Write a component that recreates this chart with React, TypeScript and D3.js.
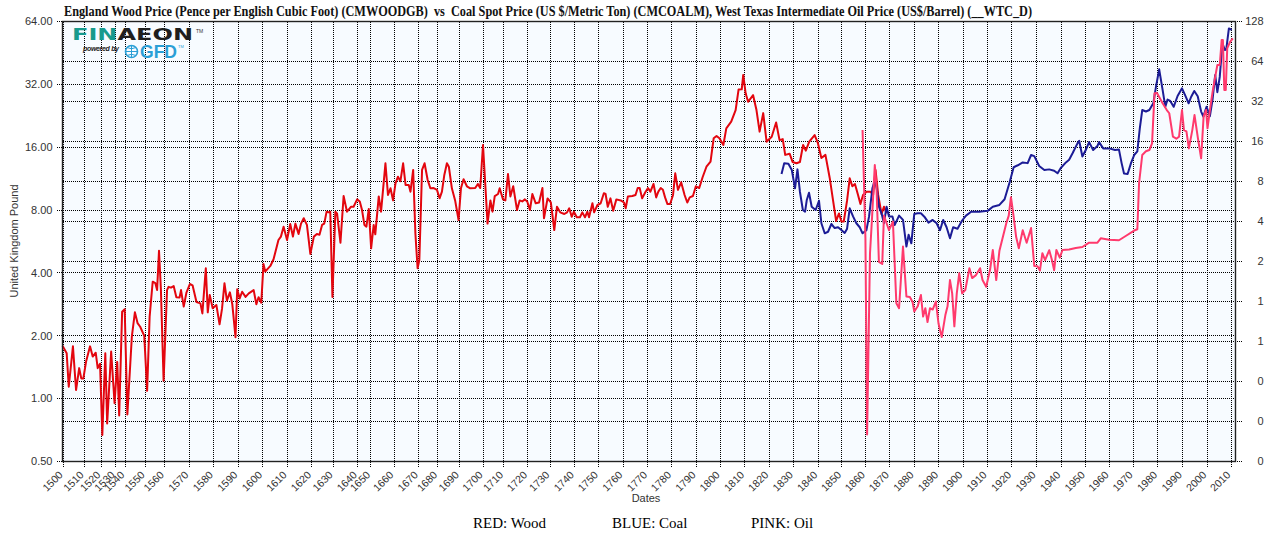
import * as d3 from "d3";
import React, { useEffect, useRef } from "react";

// x axis ticks (decades) and the relative width each decade gets on the axis
const tickYears = d3.range(1500, 2020, 10);
const lastYear = 2012;
const decadeWeights = [
  8.5, 6.8, 5.8, 4.0, 8.3, 7.8, 10, 10, 10, 10, // 1500-1590
  10, 10, 8.8, 9.9, 5.4, 9.4, 10, 7.9, 8.8, 9.7, // 1600-1690
  8.4, 9.7, 9.1, 10, 9.8, 10, 10, 9.8, 10, 9.8, // 1700-1790
  10, 9.8, 10, 10, 9.7, 9.7, 9.8, 10, 10, 9.9, // 1800-1890
  9.9, 10, 10, 10, 10, 9.7, 9.8, 10, 10, 10, // 1900-1990
  9.8, 2.2, // 2000s, 2010-2012
];

const leftTicks = [0.5, 1, 2, 4, 8, 16, 32, 64];
const rightTicks = [0.0625, 0.125, 0.25, 0.5, 1, 2, 4, 8, 16, 32, 64, 128];

// RED: England wood price (pence per cubic foot), left axis
const woodPrices = [
  [1500, 1.79], [1502, 1.65], [1503, 1.14], [1505, 1.78], [1506.5, 1.1], [1508, 1.4], [1509, 1.25],
  [1510, 1.25], [1511.6, 1.5], [1514, 1.78], [1515.6, 1.59], [1517.4, 1.66], [1518.6, 1.4], [1520, 1.47],
  [1521.6, 0.67], [1523.7, 1.65], [1525, 0.76], [1527.8, 1.68], [1530.3, 0.95], [1533, 1.5], [1535, 0.83],
  [1538, 2.61], [1540.3, 2.68], [1541.6, 0.84], [1543.8, 1.98], [1545.3, 2.59], [1546.6, 2.3], [1547.9, 2.21],
  [1549.9, 2.0], [1551.4, 1.09], [1552.7, 2.47], [1554.3, 3.63], [1555.7, 3.57], [1556.6, 3.31], [1557.6, 5.11],
  [1558.6, 3.31], [1560, 1.22], [1561.4, 3.31], [1562, 3.43], [1563, 3.4], [1564.1, 3.46], [1565.2, 3.06],
  [1566.5, 3.05], [1567.1, 3.31], [1568.2, 2.76], [1569.3, 3.22], [1570.7, 3.54], [1571.8, 3.49], [1573.4, 2.9],
  [1575, 2.86], [1575.8, 2.56], [1577.2, 4.21], [1578, 2.59], [1578.8, 3.14], [1580, 2.71], [1581.5, 2.81],
  [1582.8, 2.27], [1583.8, 2.69], [1584.8, 3.57], [1585.8, 2.95], [1587, 3.23], [1588, 2.83], [1589.3, 1.97],
  [1590, 3.34], [1591, 3.02], [1592, 3.25], [1593.4, 3.07], [1594.7, 3.19], [1596.7, 3.31], [1597.8, 2.83],
  [1598.7, 3.06], [1599.8, 2.88], [1600.7, 4.41], [1601.4, 4.06], [1603.5, 4.32], [1604.8, 4.65], [1606.8, 5.75],
  [1607.8, 5.97], [1608.9, 6.66], [1610.3, 5.75], [1611.6, 6.86], [1612.7, 5.97], [1613.7, 6.89], [1615, 6.15],
  [1616, 6.89], [1617.1, 7.31], [1618.4, 6.79], [1619.8, 4.93], [1621.4, 5.97], [1622.8, 6.14], [1624, 6.1],
  [1625.2, 6.79], [1626.2, 6.89], [1627.3, 7.86], [1628.2, 7.8], [1629, 7.86], [1630, 3.07], [1631.2, 7.86],
  [1631.9, 7.71], [1633.3, 5.58], [1634.6, 9.34], [1636, 7.86], [1637.7, 8.3], [1638.7, 8.3], [1640.3, 9.0],
  [1642.3, 8.8], [1644, 8.0], [1645.8, 6.79], [1647.3, 6.66], [1649.1, 8.1], [1650.5, 5.25], [1651.6, 6.79],
  [1652.3, 6.12], [1653.8, 9.3], [1654.8, 7.86], [1656.7, 13.4], [1657.8, 9.45], [1658.9, 10.17], [1660, 8.9],
  [1661, 10.75], [1662, 11.56], [1663, 11.0], [1664.1, 13.4], [1665.1, 10.56], [1666.4, 10.56], [1667.1, 9.8],
  [1668.2, 12.45], [1669.1, 6.19], [1670, 4.21], [1670.9, 4.61], [1672.3, 12.45], [1673.6, 13.4], [1675.2, 11.15],
  [1676.6, 10.17], [1678.3, 10.2], [1680, 10.0], [1681.2, 9.11], [1682.3, 9.8], [1683.4, 11.78], [1684.6, 13.4],
  [1685.5, 12.9], [1686.9, 10.17], [1688.4, 8.9], [1690, 7.17], [1691, 10.17], [1692.1, 11.24], [1693.5, 10.4],
  [1694.9, 10.17], [1697, 10.2], [1698.1, 10.67], [1699.1, 10.2], [1700.3, 16.4], [1701.2, 11.56], [1702.5, 6.89],
  [1703.9, 8.9], [1704.9, 7.86], [1706, 9.34], [1707.6, 9.55], [1708.4, 10.17], [1710, 9.0], [1711, 8.9],
  [1712.1, 11.91], [1713.1, 9.3], [1714.3, 10.4], [1715.9, 8.0], [1717, 8.9], [1718.1, 8.8], [1719.2, 9.0],
  [1720.2, 8.8], [1721.4, 8.0], [1722.5, 9.55], [1724, 8.62], [1725.5, 8.7], [1727, 10.2], [1727.7, 7.31],
  [1729.3, 9.1], [1730.7, 8.7], [1732.1, 6.42], [1733.2, 8.3], [1734.5, 7.8], [1736.2, 7.66], [1737.3, 7.8],
  [1738.2, 8.16], [1739.2, 7.43], [1740.1, 7.86], [1741.3, 7.39], [1742.6, 7.39], [1743.6, 7.8], [1744.7, 7.39],
  [1745.7, 7.86], [1746.4, 7.39], [1747.8, 8.62], [1748.5, 7.8], [1749.9, 8.46], [1751.2, 8.62], [1752.5, 9.63],
  [1753.2, 9.55], [1754.1, 8.3], [1755.2, 9.1], [1756.3, 7.94], [1757.6, 9.0], [1759.4, 8.9], [1760.7, 8.7],
  [1761.4, 8.16], [1762.3, 9.3], [1764.1, 9.34], [1765.4, 9.45], [1766.3, 10.2], [1767.1, 10.2], [1768.1, 9.1],
  [1769.4, 9.74], [1770.5, 10.2], [1771.5, 9.8], [1772.8, 10.67], [1773.9, 9.2], [1774.8, 9.8], [1775.8, 10.2],
  [1776.7, 10.0], [1777.6, 9.2], [1778.6, 8.55], [1779.7, 8.55], [1780.9, 9.45], [1781.8, 12.0], [1782.9, 10.0],
  [1784.2, 10.87], [1785.6, 9.45], [1786.7, 8.7], [1787.7, 9.2], [1789, 9.34], [1790.2, 10.4], [1791.6, 10.2],
  [1793, 11.49], [1794.6, 12.9], [1796.3, 13.64], [1797.6, 17.65], [1798.8, 18.1], [1800, 17.65], [1801.6, 16.4],
  [1802.8, 19.7], [1804.8, 21.2], [1806.6, 24.1], [1807.8, 30.2], [1809.1, 30.3], [1809.7, 35.5], [1810.7, 29.0],
  [1811.7, 26.4], [1813.8, 28.4], [1815.2, 24.1], [1816.5, 19.0], [1818, 23.3], [1819.4, 17.0], [1821.5, 17.97],
  [1823.3, 21.0], [1824.7, 17.3], [1826, 17.5], [1827, 14.7], [1828.8, 14.9], [1830, 13.6], [1831.6, 13.4],
  [1833, 13.6], [1834.3, 16.4], [1835.4, 15.4], [1836.8, 17.0], [1839, 18.3], [1840.3, 16.8], [1841.8, 14.2],
  [1843.5, 14.7], [1845.3, 11.4], [1846.7, 8.9], [1848, 7.09], [1849.2, 7.71], [1850.2, 7.05], [1851.2, 7.05],
  [1852.6, 8.9], [1853.7, 11.35], [1854.8, 10.4], [1855.9, 10.67], [1857.2, 9.45], [1858.2, 8.55], [1859.3, 9.45],
  [1860.7, 9.8], [1862.4, 9.8], [1863.5, 9.45], [1864.5, 12.45], [1865.6, 9.45], [1867, 7.66], [1868, 8.3],
  [1869.1, 7.71],
];

// BLUE: coal spot price (US$/metric ton), right axis
const coalPrices = [
  [1825.5, 9.11], [1826.6, 10.97], [1828.3, 10.9], [1829.7, 9.77], [1831, 7.11], [1832, 9.87], [1833, 6.7],
  [1834.2, 4.88], [1835.1, 4.74], [1835.8, 5.81], [1836.7, 6.59], [1837.8, 5.17], [1839.4, 4.88], [1840.8, 5.73],
  [1841.8, 3.88], [1843.2, 3.26], [1844.6, 3.35], [1846, 3.83], [1847.4, 3.57], [1848.8, 3.62], [1850.2, 3.45],
  [1851.6, 3.28], [1852.6, 3.53], [1853.7, 5.03], [1855.1, 4.37], [1856.5, 3.88], [1857.9, 3.62], [1859.1, 3.26],
  [1860.7, 3.44], [1861.8, 4.35], [1863.2, 7.11], [1864.2, 8.21], [1865.1, 6.9], [1865.9, 5.17], [1867, 4.61],
  [1868, 3.88], [1869.1, 5.17], [1870.1, 4.37], [1871.5, 4.37], [1872.4, 3.76], [1874.2, 4.43], [1875.8, 4.11],
  [1877.2, 2.59], [1878.1, 3.18], [1879.2, 2.74], [1880.4, 4.56], [1881.8, 4.61], [1883.1, 4.61], [1884.5, 4.35],
  [1886.2, 3.92], [1887.9, 4.11], [1889.5, 3.88], [1890.9, 3.44], [1892.2, 4.11], [1893.6, 3.62], [1895, 2.99],
  [1896.3, 3.62], [1898.1, 3.53], [1900, 4.07], [1901.6, 4.43], [1903.7, 4.74], [1907.1, 4.74], [1910.5, 4.81],
  [1912.6, 5.17], [1915.3, 5.33], [1917.4, 5.88], [1919.4, 7.84], [1921.1, 10.24], [1922.8, 10.6], [1924.8, 11.13],
  [1926.8, 11.0], [1928.2, 12.66], [1929.5, 12.42], [1931.5, 10.46], [1933.6, 9.77], [1935.6, 9.87], [1937.6, 9.65],
  [1939, 9.22], [1940.3, 10.1], [1942.4, 11.13], [1943.7, 11.65], [1945.1, 13.04], [1947.1, 15.5], [1947.8, 16.2],
  [1949.1, 12.33], [1950.5, 13.8], [1951.9, 15.83], [1953.6, 13.8], [1955.4, 14.8], [1956.1, 15.83], [1957.8, 14.2],
  [1960.3, 14.2], [1962.8, 13.8], [1964.4, 13.9], [1965.5, 11.0], [1966.5, 9.2], [1968, 9.11], [1969.4, 11.0],
  [1970.7, 12.66], [1972, 13.5], [1973, 20.1], [1974, 27.6], [1975.5, 26.9], [1976.9, 27.6], [1978.5, 31.0],
  [1979.6, 41.4], [1980.9, 55.9], [1982.3, 39.1], [1983.4, 29.2], [1984.3, 33.1], [1985.4, 32.3], [1986.8, 29.2],
  [1988.4, 35.2], [1990.2, 40.2], [1991.5, 35.6], [1992.9, 31.0], [1993.9, 34.6], [1995.2, 38.4], [1996.6, 35.0],
  [1998, 26.9], [1998.9, 24.6], [2000.2, 29.2], [2001.6, 24.8], [2002.7, 33.1], [2003.8, 50.7], [2004.7, 37.6],
  [2005.7, 49.0], [2006.8, 87.8], [2007.8, 78.2], [2008.4, 78.8], [2009.5, 113.6], [2010.6, 110.5],
];

// PINK: WTI oil price (US$/barrel), right axis
const oilPrices = [
  [1859.1, 19.5], [1860.3, 3.0], [1861, 0.1], [1862.2, 2.31], [1863, 4.11], [1864.2, 10.65], [1864.9, 7.31],
  [1865.9, 1.99], [1867.3, 1.92], [1868, 4.43], [1869.1, 3.88], [1870.1, 3.44], [1871.7, 3.99], [1873.1, 0.97],
  [1874.2, 0.89], [1875.8, 2.59], [1877.2, 1.09], [1878.6, 1.08], [1879.7, 0.99], [1880.4, 0.84], [1881.8, 0.92],
  [1883.1, 1.12], [1884, 0.77], [1884.9, 0.89], [1885.8, 0.7], [1886.8, 0.89], [1887.9, 0.87], [1889.2, 1.0],
  [1890.3, 0.68], [1891.6, 0.54], [1893.1, 0.79], [1894, 0.92], [1895, 1.45], [1895.9, 1.15], [1896.8, 0.65],
  [1897.8, 1.15], [1898.8, 1.63], [1900, 1.15], [1901.3, 1.22], [1903, 1.78], [1904.1, 1.5], [1905.7, 1.58],
  [1907.4, 1.78], [1908.4, 1.45], [1909.9, 1.29], [1911.5, 1.74], [1912.6, 2.44], [1914, 1.45], [1915.3, 2.41],
  [1917, 3.22], [1918.1, 3.88], [1919.1, 4.43], [1920, 6.09], [1921.1, 4.35], [1922.1, 3.07], [1923.2, 2.52],
  [1924.8, 3.44], [1926.4, 2.77], [1928.2, 3.57], [1929.5, 1.85], [1930.8, 1.84], [1931.8, 1.71], [1932.8, 2.31],
  [1933.9, 2.05], [1935.6, 2.43], [1936.7, 2.05], [1937.6, 1.72], [1938.5, 2.44], [1939.9, 2.14], [1941, 2.44],
  [1943.7, 2.46], [1946.4, 2.53], [1949.1, 2.57], [1951.9, 2.77], [1955.4, 2.77], [1956.8, 2.99], [1960.3, 2.92],
  [1964.4, 2.89], [1967.2, 3.11], [1970.7, 3.42], [1972, 3.5], [1972.7, 7.76], [1974, 12.66], [1975.5, 13.5],
  [1976.9, 13.8], [1978, 15.5], [1979, 36.9], [1980, 37.1], [1980.9, 34.6], [1982.3, 31.0], [1984, 27.6],
  [1985, 26.1], [1986.5, 17.4], [1987.9, 16.8], [1989, 17.4], [1990.2, 27.6], [1991, 19.5], [1992, 19.1],
  [1993, 14.2], [1994.4, 19.5], [1995.3, 25.3], [1996.7, 16.9], [1998, 11.96], [1999, 24.6], [2000, 27.6],
  [2000.6, 20.1], [2001.6, 27.6], [2002.7, 37.6], [2003.8, 49.0], [2004.7, 60.2], [2005.7, 60.2], [2006.5, 93],
  [2007, 93], [2007.6, 39.1], [2008.2, 39.1], [2008.8, 80.3], [2010, 90.1], [2011, 95.6],
];

const titleText =
  "England Wood Price (Pence per English Cubic Foot) (CMWOODGB)  vs  Coal Spot Price (US $/Metric Ton) (CMCOALM), West Texas Intermediate Oil Price (US$/Barrel) (__WTC_D)";
const legendItems = ["RED: Wood", "BLUE: Coal", "PINK: Oil"];

const W = 1284;
const H = 534;
const sansFont = "'Liberation Sans', Arial, sans-serif";
const serifFont = "'Liberation Serif', 'Times New Roman', serif";

const colorWood = "#e3060f";
const colorCoal = "#1c1c96";
const colorOil = "#ff3a6d";
const colorText = "#333";

const App = () => {
  const d3Container = useRef(null);

  useEffect(() => {
    const margin = { top: 21.5, right: 48.5, bottom: 72.5, left: 62.5 };
    const width = W - margin.left - margin.right;
    const height = H - margin.top - margin.bottom;

    const root = d3.select(d3Container.current);
    root.selectAll("*").remove();

    const svg = root.append("svg").attr("width", W).attr("height", H);
    svg.append("rect").attr("width", W).attr("height", H).attr("fill", "#fff");

    // 제목
    svg
      .append("text")
      .attr("x", 64)
      .attr("y", 16)
      .attr("font-family", serifFont)
      .attr("font-weight", "bold")
      .attr("font-size", 14)
      .attr("textLength", 968)
      .attr("lengthAdjust", "spacingAndGlyphs")
      .attr("fill", "#111")
      .style("white-space", "pre")
      .text(titleText);

    const g = svg.append("g").attr("transform", `translate(${margin.left}, ${margin.top})`);
    g.append("rect").attr("width", width).attr("height", height).attr("fill", "#f7fbff");

    // x scale: uneven decade widths
    const breakYears = [...tickYears, lastYear];
    const cum = [0];
    decadeWeights.forEach((w) => cum.push(cum[cum.length - 1] + w));
    const total = cum[cum.length - 1];
    const x = d3
      .scaleLinear()
      .domain(breakYears)
      .range(cum.map((c) => (c / total) * width));

    const yL = d3.scaleLog().base(2).domain([0.5, 64]).range([height, 0]);
    const yR = d3.scaleLog().base(2).domain([0.0625, 128]).range([height, 0]);

    const dotted = (sel) =>
      sel
        .attr("stroke", "#000")
        .attr("stroke-width", 1)
        .attr("stroke-dasharray", "1,1")
        .attr("shape-rendering", "crispEdges");

    // vertical grid
    g.selectAll(".vgrid")
      .data(tickYears)
      .join("line")
      .attr("x1", (d) => Math.round(x(d)) + 0.5)
      .attr("x2", (d) => Math.round(x(d)) + 0.5)
      .attr("y1", 0)
      .attr("y2", height + 5)
      .call(dotted);

    // horizontal grid (left axis)
    g.selectAll(".lgrid")
      .data(leftTicks)
      .join("line")
      .attr("x1", -6)
      .attr("x2", width)
      .attr("y1", (d) => Math.round(yL(d)))
      .attr("y2", (d) => Math.round(yL(d)))
      .call(dotted);

    // horizontal grid (right axis)
    g.selectAll(".rgrid")
      .data(rightTicks)
      .join("line")
      .attr("x1", 0)
      .attr("x2", width + 6)
      .attr("y1", (d) => Math.round(yR(d)))
      .attr("y2", (d) => Math.round(yR(d)))
      .call(dotted);

    // left labels
    g.selectAll(".ltext")
      .data(leftTicks)
      .join("text")
      .attr("x", -10)
      .attr("y", (d) => yL(d))
      .attr("dy", "0.35em")
      .attr("text-anchor", "end")
      .attr("font-family", sansFont)
      .attr("font-size", 11)
      .attr("fill", colorText)
      .text((d) => d.toFixed(2));

    // right labels
    g.selectAll(".rtext")
      .data(rightTicks)
      .join("text")
      .attr("x", width + 28)
      .attr("y", (d) => yR(d))
      .attr("dy", "0.35em")
      .attr("text-anchor", "end")
      .attr("font-family", sansFont)
      .attr("font-size", 11)
      .attr("fill", colorText)
      .text((d) => d.toFixed(0));

    // x labels
    g.selectAll(".xtext")
      .data(tickYears)
      .join("text")
      .attr("transform", (d) => `translate(${x(d) + 1}, ${height + 14}) rotate(-45)`)
      .attr("text-anchor", "end")
      .attr("font-family", sansFont)
      .attr("font-size", 10.5)
      .attr("fill", colorText)
      .text((d) => d);

    // 축 제목
    svg
      .append("text")
      .attr("transform", `translate(18, 241) rotate(-90)`)
      .attr("text-anchor", "middle")
      .attr("font-family", sansFont)
      .attr("font-size", 11)
      .attr("fill", colorText)
      .text("United Kingdom Pound");

    svg
      .append("text")
      .attr("x", margin.left + width / 2 - 3)
      .attr("y", 502)
      .attr("text-anchor", "middle")
      .attr("font-family", sansFont)
      .attr("font-size", 11)
      .attr("fill", colorText)
      .text("Dates");

    // 라인
    const lineL = d3
      .line()
      .x((d) => x(d[0]))
      .y((d) => yL(d[1]));
    const lineR = d3
      .line()
      .x((d) => x(d[0]))
      .y((d) => yR(d[1]));

    [
      [woodPrices, lineL, colorWood],
      [coalPrices, lineR, colorCoal],
      [oilPrices, lineR, colorOil],
    ].forEach(([data, line, color]) => {
      g.append("path")
        .datum(data)
        .attr("fill", "none")
        .attr("stroke", color)
        .attr("stroke-width", 2)
        .attr("stroke-linejoin", "round")
        .attr("d", line);
    });

    // plot border
    g.append("rect")
      .attr("width", width)
      .attr("height", height)
      .attr("fill", "none")
      .attr("stroke", "#222")
      .attr("stroke-width", 1.4);

    // legend
    svg
      .selectAll(".legend")
      .data(legendItems)
      .join("text")
      .attr("x", (d, i) => 473 + i * 139)
      .attr("y", 528)
      .attr("font-family", serifFont)
      .attr("font-size", 15)
      .attr("fill", "#000")
      .text((d) => d);

    // logo
    const logo = svg.append("g");
    const fin = logo
      .append("text")
      .attr("x", 72)
      .attr("y", 40)
      .attr("font-family", "'DejaVu Sans', sans-serif")
      .attr("font-weight", "bold")
      .attr("font-size", 15.5)
      .attr("textLength", 121)
      .attr("lengthAdjust", "spacingAndGlyphs");
    fin.append("tspan").attr("fill", "#179a8c").text("FIN");
    fin.append("tspan").attr("fill", "#1e1e1e").text("AEON");
    logo
      .append("text")
      .attr("x", 196)
      .attr("y", 33)
      .attr("font-family", sansFont)
      .attr("font-size", 5)
      .attr("fill", "#333")
      .text("TM");
    logo
      .append("text")
      .attr("x", 83)
      .attr("y", 51)
      .attr("font-family", sansFont)
      .attr("font-style", "italic")
      .attr("font-weight", "bold")
      .attr("font-size", 7)
      .attr("textLength", 36)
      .attr("fill", "#222")
      .text("powered by");
    logo
      .append("circle")
      .attr("cx", 131.5)
      .attr("cy", 51.5)
      .attr("r", 6)
      .attr("fill", "none")
      .attr("stroke", "#2a9fd6")
      .attr("stroke-width", 1.6);
    logo
      .append("path")
      .attr("d", "M125.5,51.5 H137.5 M131.5,45.5 V57.5 M127,47.5 Q131.5,50 136,47.5 M127,55.5 Q131.5,53 136,55.5")
      .attr("fill", "none")
      .attr("stroke", "#2a9fd6")
      .attr("stroke-width", 1);
    logo
      .append("text")
      .attr("x", 140)
      .attr("y", 58)
      .attr("font-family", sansFont)
      .attr("font-weight", "bold")
      .attr("font-size", 18)
      .attr("textLength", 37)
      .attr("lengthAdjust", "spacingAndGlyphs")
      .attr("fill", "#2a9fd6")
      .text("GFD");
    logo
      .append("text")
      .attr("x", 178)
      .attr("y", 48)
      .attr("font-family", sansFont)
      .attr("font-size", 4)
      .attr("fill", "#2a9fd6")
      .text("TM");
  }, []);

  return <div ref={d3Container} style={{ position: "absolute", left: 0, top: 0 }} />;
};

export default App;
